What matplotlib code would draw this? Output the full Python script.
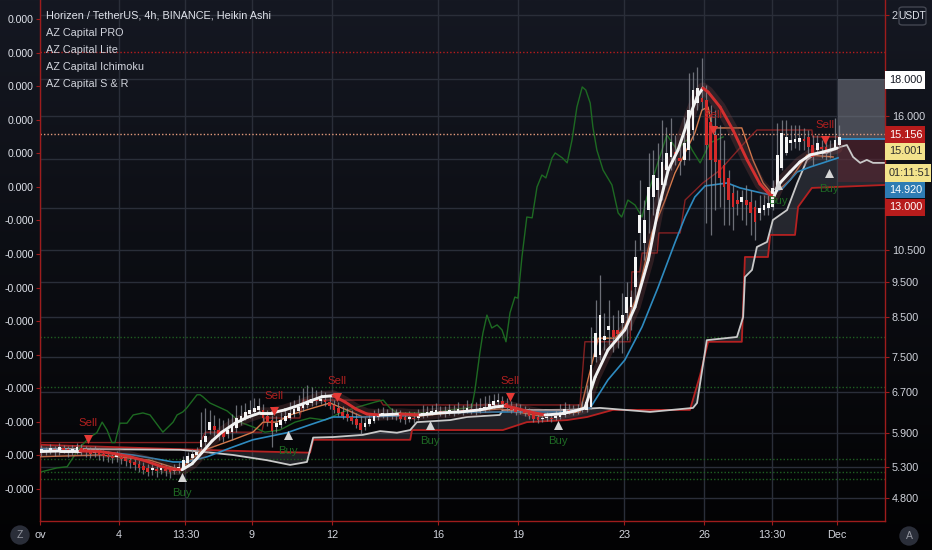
import numpy as np
import matplotlib
matplotlib.use("Agg")
import matplotlib.pyplot as plt
from matplotlib.collections import LineCollection
from matplotlib.colors import LinearSegmentedColormap
from matplotlib.patches import Rectangle, FancyBboxPatch
from matplotlib.ticker import NullLocator, NullFormatter

plt.rcParams['font.family'] = ['Liberation Sans', 'DejaVu Sans']

# ---------------- data (x = 4h bar number, bar 0 = Nov 1 00:00) ----------------
ha_open = [5.56, 5.59, 5.57, 5.61, 5.59, 5.63, 5.61, 5.57, 5.59, 5.63,
           5.61, 5.57, 5.54, 5.56, 5.52, 5.50, 5.49, 5.47, 5.47, 5.45,
           5.41, 5.38, 5.35, 5.31, 5.28, 5.25, 5.26, 5.25, 5.26, 5.25,
           5.23, 5.25, 5.28, 5.36, 5.45, 5.50, 5.64, 5.73, 5.95, 6.03,
           5.95, 5.91, 5.88, 5.91, 5.99, 6.10, 6.18, 6.26, 6.30, 6.34,
           6.34, 6.22, 6.14, 6.01, 6.05, 6.12, 6.18, 6.26, 6.32, 6.38,
           6.44, 6.48, 6.54, 6.52, 6.54, 6.50, 6.44, 6.38, 6.30, 6.26,
           6.20, 6.16, 6.08, 6.01, 6.07, 6.12, 6.20, 6.24, 6.26, 6.24,
           6.26, 6.24, 6.20, 6.16, 6.18, 6.18, 6.22, 6.26, 6.28, 6.30,
           6.32, 6.32, 6.30, 6.32, 6.32, 6.34, 6.34, 6.36, 6.36, 6.34,
           6.36, 6.40, 6.44, 6.50, 6.52, 6.48, 6.42, 6.38, 6.34, 6.32,
           6.30, 6.26, 6.20, 6.16, 6.18, 6.18, 6.18, 6.20, 6.24, 6.32,
           6.32, 6.32, 6.34, 6.34, 6.40, 7.49, 7.54, 7.90, 8.16, 8.16,
           8.16, 8.34, 8.61, 8.77, 9.33, 11.08, 10.74, 11.91, 12.41, 12.69,
           12.89, 13.51, 14.08, 14.30, 14.04, 13.95, 14.39, 15.33, 16.69, 16.96,
           16.85, 15.72, 15.09, 13.95, 13.73, 13.18, 12.57, 12.29, 12.22, 12.29,
           12.22, 12.03, 11.80, 11.91, 11.99, 12.03, 12.81, 13.60, 14.26, 14.72,
           14.77, 14.77, 14.91, 15.00, 14.62, 14.39, 14.53, 14.53, 14.35, 14.39,
           14.62]
ha_close = [5.61, 5.56, 5.63, 5.57, 5.64, 5.59, 5.56, 5.61, 5.64, 5.59,
            5.56, 5.52, 5.57, 5.50, 5.49, 5.47, 5.45, 5.49, 5.43, 5.40,
            5.36, 5.33, 5.28, 5.25, 5.21, 5.26, 5.23, 5.28, 5.23, 5.21,
            5.26, 5.30, 5.41, 5.49, 5.52, 5.56, 5.77, 5.84, 6.10, 5.95,
            5.88, 5.82, 5.95, 6.03, 6.18, 6.22, 6.30, 6.34, 6.38, 6.42,
            6.18, 6.10, 5.93, 6.08, 6.14, 6.22, 6.28, 6.36, 6.40, 6.46,
            6.50, 6.56, 6.52, 6.56, 6.50, 6.42, 6.34, 6.28, 6.22, 6.18,
            6.12, 6.05, 5.95, 6.08, 6.16, 6.22, 6.26, 6.28, 6.22, 6.28,
            6.22, 6.16, 6.14, 6.20, 6.16, 6.24, 6.28, 6.30, 6.32, 6.34,
            6.30, 6.28, 6.34, 6.30, 6.36, 6.32, 6.38, 6.34, 6.32, 6.38,
            6.40, 6.46, 6.52, 6.54, 6.46, 6.38, 6.34, 6.30, 6.32, 6.28,
            6.22, 6.16, 6.14, 6.18, 6.20, 6.16, 6.22, 6.28, 6.36, 6.31,
            6.30, 6.34, 6.38, 6.50, 7.31, 8.08, 8.55, 8.01, 8.26, 7.98,
            8.06, 8.55, 9.05, 9.05, 10.27, 11.73, 11.54, 12.81, 13.30, 13.18,
            13.86, 14.26, 14.77, 14.21, 13.91, 14.72, 16.33, 17.39, 17.50, 16.75,
            14.62, 13.95, 13.86, 13.18, 12.81, 12.29, 12.03, 12.14, 12.41, 12.10,
            11.80, 11.47, 11.99, 12.10, 12.18, 12.77, 14.17, 15.19, 15.00, 14.86,
            14.91, 14.95, 14.81, 14.53, 14.08, 14.72, 14.44, 14.26, 14.44, 14.86,
            15.00]
ha_high = [5.68, 5.64, 5.70, 5.66, 5.72, 5.68, 5.66, 5.68, 5.72, 5.70,
           5.66, 5.64, 5.66, 5.63, 5.59, 5.57, 5.56, 5.57, 5.54, 5.50,
           5.49, 5.45, 5.41, 5.38, 5.35, 5.35, 5.33, 5.36, 5.33, 5.31,
           5.35, 5.38, 5.49, 5.56, 5.61, 5.64, 6.30, 6.38, 6.34, 6.24,
           6.18, 6.14, 6.18, 6.26, 6.44, 6.44, 6.48, 6.54, 6.59, 6.59,
           6.46, 6.34, 6.24, 6.22, 6.30, 6.38, 6.50, 6.54, 6.65, 6.80,
           6.86, 6.82, 6.75, 6.75, 6.71, 6.63, 6.54, 6.50, 6.42, 6.38,
           6.34, 6.28, 6.22, 6.20, 6.28, 6.34, 6.38, 6.40, 6.36, 6.38,
           6.36, 6.34, 6.30, 6.32, 6.30, 6.36, 6.44, 6.42, 6.44, 6.48,
           6.42, 6.42, 6.46, 6.44, 6.50, 6.44, 6.54, 6.48, 6.50, 6.59,
           6.63, 6.65, 6.67, 6.69, 6.63, 6.59, 6.52, 6.48, 6.46, 6.42,
           6.38, 6.36, 6.30, 6.28, 6.30, 6.28, 6.34, 6.46, 6.50, 6.46,
           6.44, 6.46, 6.52, 6.86, 8.24, 8.97, 9.70, 8.61, 8.97, 8.55,
           8.69, 9.16, 9.49, 9.26, 10.84, 13.09, 12.29, 14.26, 14.39, 14.72,
           15.82, 15.48, 15.92, 15.09, 14.86, 15.98, 18.35, 18.41, 18.70, 19.24,
           17.67, 16.59, 16.33, 15.58, 14.86, 13.51, 12.89, 12.69, 12.69, 12.89,
           12.69, 12.29, 12.49, 12.49, 12.49, 13.09, 15.67, 15.82, 15.82, 15.58,
           15.58, 15.58, 15.43, 15.33, 15.09, 15.09, 14.86, 14.86, 14.86, 15.92,
           15.58]
ha_low = [5.49, 5.50, 5.52, 5.49, 5.50, 5.54, 5.47, 5.50, 5.52, 5.50,
          5.47, 5.45, 5.47, 5.41, 5.40, 5.38, 5.36, 5.38, 5.35, 5.31,
          5.28, 5.25, 5.21, 5.18, 5.15, 5.16, 5.13, 5.18, 5.15, 5.11,
          5.18, 5.20, 5.25, 5.31, 5.40, 5.47, 5.59, 5.66, 5.88, 5.84,
          5.77, 5.73, 5.81, 5.77, 5.91, 6.05, 6.14, 6.18, 6.24, 6.28,
          6.12, 6.03, 5.64, 5.91, 5.99, 6.08, 6.14, 6.20, 6.26, 6.32,
          6.38, 6.42, 6.44, 6.46, 6.42, 6.36, 6.28, 6.22, 6.16, 6.12,
          6.07, 5.99, 5.88, 5.95, 6.03, 6.08, 6.14, 6.18, 6.14, 6.16,
          6.14, 6.10, 6.07, 6.10, 6.08, 6.14, 6.18, 6.20, 6.24, 6.26,
          6.22, 6.20, 6.24, 6.22, 6.26, 6.24, 6.28, 6.26, 6.24, 6.28,
          6.30, 6.34, 6.38, 6.42, 6.38, 6.32, 6.28, 6.24, 6.26, 6.22,
          6.16, 6.10, 6.08, 6.10, 6.12, 6.10, 6.14, 6.16, 6.20, 6.26,
          6.24, 6.26, 6.30, 6.30, 6.36, 7.38, 7.42, 7.66, 7.78, 7.61,
          7.71, 7.59, 7.90, 8.16, 8.97, 10.50, 10.17, 11.08, 11.73, 12.10,
          12.29, 12.89, 13.51, 13.73, 13.30, 13.73, 13.95, 14.86, 16.33, 16.33,
          11.44, 11.01, 11.91, 12.03, 11.36, 11.36, 11.18, 11.73, 11.54, 11.36,
          11.01, 10.84, 11.54, 11.73, 11.73, 11.91, 12.69, 13.51, 14.17, 14.39,
          14.48, 14.39, 14.39, 14.17, 13.73, 14.17, 14.04, 13.95, 14.04, 14.39,
          14.48]

# AZ Capital PRO moving average (white rising / red falling)
ma_bar = [-0.3, 4.2, 8.7, 13.2, 16.6, 20.0, 23.4, 26.8, 29.5, 31.7, 34.0, 36.2, 38.5, 40.7, 43.7, 46.6,
          49.3, 52.0, 54.9, 57.7, 60.6, 63.3, 65.8, 68.5, 70.9, 73.4, 76.4, 80.9, 85.4, 89.9, 94.4, 98.9,
          102.3, 104.6, 106.8, 110.2, 113.6, 117.0, 120.4, 122.6, 124.9, 127.8, 131.6, 133.9, 136.9, 139.1,
          141.4, 143.6, 145.9, 147.9, 149.2, 150.4, 153.1, 156.0, 159.2, 162.1, 164.4, 165.3, 166.6, 168.9,
          171.1, 173.4, 176.3, 179.5]
ma_val = [5.56, 5.57, 5.57, 5.56, 5.52, 5.47, 5.40, 5.31, 5.26, 5.25, 5.35, 5.54, 5.75, 5.91, 6.08, 6.20,
          6.28, 6.28, 6.34, 6.42, 6.52, 6.61, 6.63, 6.50, 6.36, 6.26, 6.24, 6.26, 6.24, 6.28, 6.30, 6.34,
          6.40, 6.42, 6.38, 6.30, 6.24, 6.26, 6.32, 6.38, 7.03, 7.66, 8.16, 8.77, 10.17, 11.91,
          13.51, 14.39, 15.82, 17.01, 17.50, 17.28, 16.48, 15.33, 13.95, 12.93, 12.49, 12.45, 12.97, 13.43,
          13.86, 14.17, 14.30, 14.48]

# slow average (blue)
blue_bar = [-0.3, 13.2, 20.7, 24.5, 29.7, 32.8, 37.4, 43.2, 47.7, 55.4, 60.6, 65.8, 72.5, 80.9, 89.2,
            103.4, 118.6, 123.8, 127.8, 131.6, 135.5, 139.1, 142.9, 145.2, 147.4, 149.7, 154.7, 157.6,
            161.4, 164.4, 167.3, 170.5, 173.4, 176.3, 179.7]
blue_val = [5.61, 5.56, 5.50, 5.45, 5.38, 5.38, 5.47, 5.64, 5.77, 5.90, 6.05, 6.20, 6.20, 6.22, 6.28,
            6.30, 6.30, 6.38, 6.97, 7.42, 8.24, 9.33, 10.74, 11.65, 12.41, 12.85, 12.97, 12.77,
            12.61, 12.49, 12.77, 13.43, 13.64, 13.82, 14.04]

# conversion line (orange)
orange_bar = [-0.3, 13.2, 24.5, 31.3, 35.8, 43.2, 47.7, 50.0, 53.1, 56.1, 61.3, 65.1, 68.9, 72.5, 76.4,
              85.4, 94.4, 103.4, 112.5, 121.5, 125.6, 129.4, 131.6, 134.6, 137.7, 140.7, 142.9, 145.2,
              147.4, 149.0, 150.4, 151.3, 158.0, 160.5, 162.8, 165.0, 168.9, 172.7, 178.6]
orange_val = [5.47, 5.50, 5.41, 5.25, 5.56, 5.77, 5.91, 6.10, 6.10, 6.24, 6.38, 6.48, 6.34, 6.20, 6.24,
              6.22, 6.30, 6.36, 6.22, 6.30, 7.95, 7.95, 8.24, 9.16, 11.08, 12.29, 13.38, 14.26,
              15.19, 16.33, 16.48, 15.43, 15.43, 13.95, 12.97, 12.49, 13.09, 14.17, 14.08]

# upper channel (dark red step line)
chan_bar = [-0.3, 35.8, 37.0, 49.7, 50.4, 58.3, 59.0, 76.4, 77.1, 121.5, 122.6, 132.8, 133.2, 135.0,
            135.5, 138.9, 139.3, 144.1, 145.2, 149.2, 153.1, 159.2, 161.4, 173.8, 174.0, 179.7]
chan_val = [5.72, 5.72, 5.91, 5.91, 6.18, 6.18, 6.54, 6.54, 6.44, 6.44, 7.86, 7.86, 9.80, 9.80,
            10.40, 10.40, 11.08, 11.08, 12.29, 12.97, 13.51, 14.86, 15.33, 15.33, 15.00, 15.00]

# Ichimoku spans
span_a_bar = [-0.3, 31.3, 35.8, 43.2, 50.9, 56.1, 59.9, 61.3, 65.8, 72.5, 76.4, 80.2, 83.2, 84.7, 92.2,
              96.0, 103.4, 104.1, 118.6, 126.0, 137.3, 147.0, 147.9, 150.1, 156.9, 158.3, 158.7, 160.3,
              161.4, 163.7, 165.0, 168.2, 170.5, 172.7, 174.9, 177.2, 180.2, 181.7, 183.1, 184.7, 186.2,
              187.6, 190.3]
span_a_val = [5.61, 5.59, 5.56, 5.50, 5.41, 5.33, 5.38, 5.81, 5.82, 5.86, 5.93, 5.90, 5.95, 6.10, 6.14,
              6.20, 6.24, 6.34, 6.34, 6.38, 6.30, 6.38, 6.48, 7.90, 7.98, 8.50, 9.64, 9.86,
              10.60, 10.77, 11.54, 11.91, 12.97, 13.95, 14.26, 14.26, 14.53, 14.62, 14.08, 13.82, 13.95,
              13.82, 13.82]
span_b_bar = [-0.3, 35.8, 49.3, 60.6, 61.3, 83.2, 83.6, 104.1, 109.5, 118.6, 123.1, 128.9, 146.3, 148.6,
              150.4, 158.0, 158.7, 163.9, 164.4, 170.0, 170.7, 173.8, 190.3]
span_b_val = [5.68, 5.59, 5.56, 5.54, 5.77, 5.77, 5.95, 5.95, 6.10, 6.14, 6.20, 6.34, 6.34, 7.08,
              7.86, 7.86, 10.27, 10.27, 11.01, 11.01, 12.03, 12.77, 12.89]

# lagging span (green)
lag_bar = [-0.3, 3.5, 5.8, 7.1, 8.7, 11.0, 12.5, 13.7, 14.8, 15.9,
           16.6, 17.7, 19.3, 20.7, 22.9, 24.5, 27.4, 29.7, 30.6, 31.9,
           32.8, 35.1, 35.8, 36.4, 38.0, 41.9, 44.8, 47.7, 50.4, 53.8,
           57.2, 60.6, 64.0, 67.4, 70.7, 73.0, 75.3, 77.1, 78.6, 80.2,
           88.3, 92.2, 96.0, 97.1, 97.8, 98.9, 99.6, 100.5, 101.6, 102.8,
           103.9, 104.8, 105.7, 106.8, 107.5, 108.4, 109.5, 110.7, 111.8, 112.9,
           113.8, 115.2, 115.9, 117.5, 118.6, 119.7, 120.8, 122.0, 122.8, 123.8,
           124.4, 125.3, 126.7, 128.7, 130.1, 130.9, 132.3, 133.9, 135.5, 136.6,
           138.9, 141.1, 143.4, 145.6, 146.8, 148.6, 150.8, 152.4, 153.8]
lag_val = [5.21, 5.28, 5.30, 5.45, 5.64, 5.82, 5.90, 6.10, 5.95, 5.72,
           5.72, 6.08, 6.08, 6.24, 6.28, 6.24, 5.91, 6.10, 6.24, 6.30,
           6.38, 6.65, 6.65, 6.61, 6.48, 6.32, 6.10, 6.01, 5.91, 5.95,
           6.10, 6.18, 6.14, 6.28, 6.38, 6.44, 6.50, 6.54, 6.38, 6.28,
           6.28, 6.34, 6.38, 6.40, 6.75, 7.59, 8.08, 8.55, 8.21, 8.29,
           8.16, 7.86, 8.61, 9.05, 9.02, 10.27, 11.65, 11.62, 12.81, 13.30,
           13.18, 14.04, 14.26, 14.04, 13.82, 14.86, 16.48, 17.56, 17.39, 16.69,
           15.48, 14.39, 13.51, 12.89, 11.80, 11.65, 12.29, 12.10, 11.65, 12.41,
           13.73, 15.09, 14.39, 14.86, 14.39, 13.82, 14.72, 14.86, 15.00]

# signals
sell_bar = [10.5, 52.5, 66.7, 105.7, 151.5, 176.8]
sell_val = [5.79, 6.32, 6.61, 6.61, 15.33, 14.86]
buy_bar = [31.7, 55.6, 87.7, 116.5, 166.2, 177.7]
buy_val = [5.13, 5.86, 6.05, 6.05, 12.89, 13.38]

# S & R levels and the open position
res_levels = [19.61]
sup_levels = [7.98, 6.82, 5.43, 5.21, 5.10]
last_line = 15.156
pos_start, entry, target, stop = 179.7, 14.92, 18.0, 13.0

price_ticks = [22, 18, 16, 14, 12, 10.5, 9.5, 8.5, 7.5, 6.7, 5.9, 5.3, 4.8]
price_labels = ['2', '', '16.000', '', '', '10.500', '9.500', '8.500', '7.500', '6.700', '5.900', '5.300', '4.800']
date_ticks = [-0.3, 17.5, 32.5, 47.5, 65.5, 89.5, 107.5, 131.5, 149.5, 164.8, 179.5]
date_labels = ['ov', '4', '13:30', '9', '12', '16', '19', '23', '26', '13:30', 'Dec']

# ---------------- figure ----------------
W, H = 932, 550
RED = '#9e1c1c'
TXT = '#d1d4dc'
FS = 7.8
fig = plt.figure(figsize=(W / 100, H / 100), dpi=100)

bg = fig.add_axes([0, 0, 1, 1], zorder=-5)
bg.imshow(np.linspace(0, 1, 256).reshape(-1, 1), aspect='auto', extent=[0, 1, 0, 1],
          cmap=LinearSegmentedColormap.from_list('bg', ['#151822', '#020203']))
bg.axis('off')

ax = fig.add_axes([40 / W, 29 / H, 845 / W, 521 / H])
ax.set_facecolor('none')
ax.set_yscale('log')
ax.set_xlim(-0.32, 190.3)
ax.set_ylim(4.466, 23.1)

# left oscillator scale (twinx moves the price ticks, so set sides afterwards)
axl = ax.twinx()
axl.set_ylim(-0.0004727, 0.0003033)
osc_ticks = [0.000275 - 0.00005 * k for k in range(15)]
axl.set_yticks(osc_ticks)
axl.set_yticklabels(['{:.3f}'.format(v) for v in osc_ticks])
axl.yaxis.tick_left()
axl.tick_params(axis='y', color=RED, labelcolor='#e0e3eb', labelsize=7.6, length=3, pad=1.5)
for s in axl.spines.values():
    s.set_visible(False)

ax.yaxis.tick_right()
ax.set_yticks(price_ticks)
ax.set_yticklabels(price_labels)
ax.yaxis.set_minor_locator(NullLocator())
ax.yaxis.set_minor_formatter(NullFormatter())
ax.set_xticks(date_ticks)
ax.set_xticklabels(date_labels)
ax.tick_params(axis='y', color=RED, labelcolor=TXT, labelsize=FS, length=3, pad=2)
ax.tick_params(axis='x', color=RED, labelcolor=TXT, labelsize=FS, length=3, pad=3.5)
ax.grid(True, color='#2a2e39', lw=1.0)
ax.set_axisbelow(True)
for s in ['left', 'right', 'bottom']:
    ax.spines[s].set_color(RED)
    ax.spines[s].set_linewidth(1.0)
ax.spines['top'].set_visible(False)

# cloud
ax.fill(np.r_[span_a_bar, span_b_bar[::-1]], np.r_[span_a_val, span_b_val[::-1]],
        color='#5d606b', alpha=0.3, lw=0, zorder=1)

# horizontal S & R levels
for v in res_levels:
    ax.axhline(v, color='#b71c1c', ls=(0, (1, 1.5)), lw=1.0, zorder=1.5)
for v in sup_levels:
    ax.axhline(v, color='#1f5e22', ls=(0, (1, 1.5)), lw=1.0, zorder=1.5)
ax.axhline(last_line, color='#e39a7c', ls=(0, (1, 1.5)), lw=1.0, zorder=1.5)

# position box
ax.add_patch(Rectangle((pos_start, entry), 190.3 - pos_start, target - entry,
                       facecolor='#787b86', alpha=0.55, lw=0, zorder=1.2))
ax.add_patch(Rectangle((pos_start, stop), 190.3 - pos_start, entry - stop,
                       facecolor='#5a2530', alpha=0.6, lw=0, zorder=1.2))
ax.hlines(entry, pos_start, 190.3, color='#2f8fc7', lw=1.3, zorder=3)

# indicator lines
ax.plot(chan_bar, chan_val, color='#a32626', lw=1.0, alpha=0.8, zorder=2)
ax.plot(span_b_bar, span_b_val, color='#b52121', lw=1.3, zorder=2)
ax.plot(span_a_bar, span_a_val, color='#c9c9c9', lw=1.3, zorder=2)
ax.plot(lag_bar, lag_val, color='#1d6a22', lw=1.0, zorder=2)
ax.plot(orange_bar, orange_val, color='#d67a4c', lw=1.0, zorder=3)
ax.plot(blue_bar, blue_val, color='#2e8bc0', lw=1.2, zorder=3)
ax.plot(ma_bar, ma_val, color='#7d4444', lw=8, alpha=0.3, solid_capstyle='round', zorder=3.5)

# Heikin Ashi candles
o = np.array(ha_open)
c = np.array(ha_close)
bars = np.arange(len(o))
up = c >= o
lo = np.minimum(o, c)
hi = np.maximum(o, c)
ax.vlines(bars, ha_low, ha_high, color='#8d9099', lw=0.9, alpha=0.75, zorder=4)
ax.bar(bars, np.maximum(hi - lo, lo * 0.004), bottom=lo, width=0.62,
       color=np.where(up, '#f5f5f5', '#d42a2a'), lw=0, zorder=5)

# main average coloured by direction
pts = np.column_stack([ma_bar, ma_val])
segs = np.stack([pts[:-1], pts[1:]], axis=1)
rising = np.diff(ma_val) >= 0
ax.add_collection(LineCollection(segs, colors=np.where(rising, '#f2f2f2', '#d32f2f'),
                                 linewidths=2.1, capstyle='round', zorder=6))

# signals
ax.scatter(sell_bar, sell_val, marker='v', s=42, color='#e53935', lw=0, zorder=7)
ax.scatter(buy_bar, buy_val, marker='^', s=42, color='#d6d6d6', lw=0, zorder=7)
for b, v in zip(sell_bar, sell_val):
    ax.annotate('Sell', (b, v), xytext=(0, 11), textcoords='offset points',
                ha='center', va='center', color='#b0201f', fontsize=8.2, zorder=7)
for b, v in zip(buy_bar, buy_val):
    ax.annotate('Buy', (b, v), xytext=(0, -11.5), textcoords='offset points',
                ha='center', va='center', color='#1f6a24', fontsize=8.2, zorder=7)

# legend text
legend = ['Horizen / TetherUS, 4h, BINANCE, Heikin Ashi', 'AZ Capital PRO', 'AZ Capital Lite',
          'AZ Capital Ichimoku', 'AZ Capital S & R']
for k, t in enumerate(legend):
    fig.text(46 / W, 1 - (16 + 17 * k) / H, t, color='#e0e3eb' if k == 0 else TXT,
             fontsize=7.8, va='center', ha='left')

# price boxes on the right scale
def price_box(y0, y1, x1, text, fc, tc):
    fig.add_artist(Rectangle((885 / W, 1 - y1 / H), (x1 - 885) / W, (y1 - y0) / H,
                             transform=fig.transFigure, facecolor=fc, edgecolor='none', zorder=5))
    fig.text(889 / W, 1 - (y0 + y1) / 2 / H, text, color=tc, fontsize=FS,
             va='center', ha='left', zorder=6)

price_box(71, 89, 925, '18.000', '#ffffff', '#131722')
price_box(126, 143, 925, '15.156', '#b71c1c', '#ffffff')
price_box(143, 160, 925, '15.001', '#f3e38c', '#2b2b2b')
price_box(164, 182, 931, '01:11:51', '#f3e38c', '#2b2b2b')
price_box(182, 198, 925, '14.920', '#2e7cb3', '#ffffff')
price_box(199, 216, 925, '13.000', '#b71c1c', '#ffffff')

fig.add_artist(FancyBboxPatch((899 / W, 1 - 25 / H), 27 / W, 18 / H,
                              boxstyle='round,pad=0,rounding_size=0.004', transform=fig.transFigure,
                              facecolor='#131722', edgecolor='#434651', lw=1, zorder=5))
fig.text(912.5 / W, 1 - 16 / H, 'USDT', color='#e0e3eb', fontsize=7.4, ha='center', va='center', zorder=6)

for xx, yy, t in [(20, 535, 'Z'), (909, 536, 'A')]:
    fig.text(xx / W, 1 - yy / H, t, color='#9598a1', fontsize=7.5, ha='center', va='center',
             bbox=dict(boxstyle='circle,pad=0.45', facecolor='#2a2e39', edgecolor='none'))

fig.savefig('out.png', dpi=100)
